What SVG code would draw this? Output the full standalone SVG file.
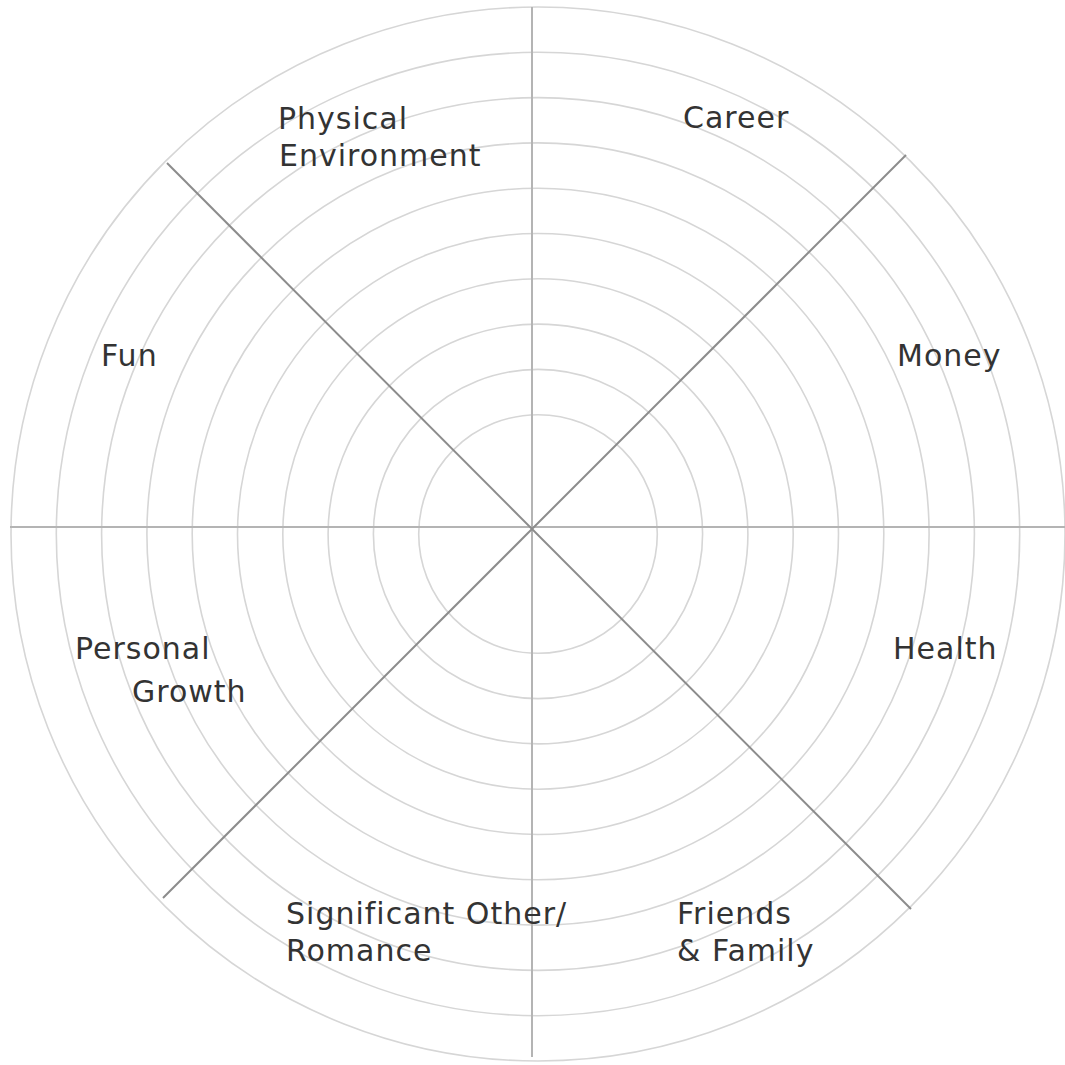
<svg xmlns="http://www.w3.org/2000/svg" width="1065" height="1065" viewBox="0 0 1065 1065">
<style>
.ring{fill:none;stroke:#d6d6d6;stroke-width:1.6}
.axis{stroke:#b4b4b4;stroke-width:2}
.diag{stroke:#8c8c8c;stroke-width:2}
.lbl{font-family:"DejaVu Sans",Verdana,sans-serif;font-size:30px;letter-spacing:1px;fill:#333}
</style>
<rect width="1065" height="1065" fill="#fff"/>
<g id="rings">
<circle class="ring" cx="538" cy="534" r="527"/>
<circle class="ring" cx="538" cy="534" r="481.7"/>
<circle class="ring" cx="538" cy="534" r="436.4"/>
<circle class="ring" cx="538" cy="534" r="391.1"/>
<circle class="ring" cx="538" cy="534" r="345.8"/>
<circle class="ring" cx="538" cy="534" r="300.5"/>
<circle class="ring" cx="538" cy="534" r="255.2"/>
<circle class="ring" cx="538" cy="534" r="209.9"/>
<circle class="ring" cx="538" cy="534" r="164.6"/>
<circle class="ring" cx="538" cy="534" r="119.3"/>
</g>
<g id="connectors">
<line class="axis" x1="10" y1="527" x2="1065" y2="527"/>
<line class="axis" x1="532" y1="7" x2="532" y2="1057"/>
<line class="diag" x1="167" y1="163" x2="911" y2="909"/>
<line class="diag" x1="163" y1="898" x2="906" y2="155"/>
</g>
<g id="physical-environment"><text class="lbl" x="278" y="129">Physical</text><text class="lbl" x="279" y="166">Environment</text></g>
<g id="career"><text class="lbl" x="683" y="128">Career</text></g>
<g id="fun"><text class="lbl" x="101" y="366">Fun</text></g>
<g id="money"><text class="lbl" x="897" y="366">Money</text></g>
<g id="personal-growth"><text class="lbl" x="75" y="659">Personal</text><text class="lbl" x="132" y="702">Growth</text></g>
<g id="health"><text class="lbl" x="893" y="659">Health</text></g>
<g id="significant-other"><text class="lbl" x="286" y="924">Significant Other/</text><text class="lbl" x="286" y="961">Romance</text></g>
<g id="friends-family"><text class="lbl" x="677" y="924">Friends</text><text class="lbl" x="677" y="961">&amp; Family</text></g>
</svg>
